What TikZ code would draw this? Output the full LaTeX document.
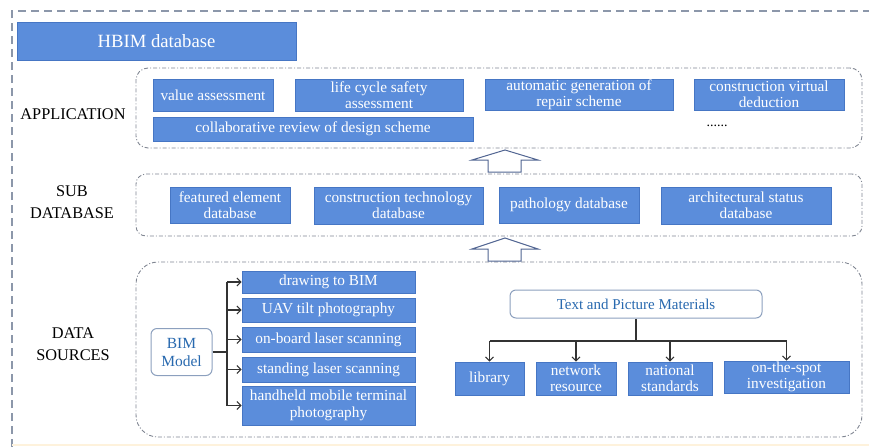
\documentclass[tikz,border=0pt]{standalone}
\usepackage{fontspec}
\setmainfont{Liberation Serif}
\usetikzlibrary{arrows.meta}

\definecolor{boxfill}{RGB}{91,141,219}
\definecolor{boxline}{RGB}{70,118,196}
\definecolor{framegray}{RGB}{140,151,170}
\definecolor{groupgray}{RGB}{128,134,146}
\definecolor{titleblue}{RGB}{40,105,175}
\definecolor{softline}{RGB}{140,160,190}
\definecolor{blockline}{RGB}{80,100,145}

\tikzset{
  box/.style={draw=boxline, line width=0.6pt, fill=boxfill, text=white, inner sep=0pt,
    align=center, font=\fontsize{15.3}{16.5}\selectfont},
  group/.style={draw=groupgray, line width=0.9pt, dash pattern=on 4pt off 2pt on 1pt off 2pt},
  sidelabel/.style={align=center, font=\fontsize{16.3}{22}\selectfont, text=black},
  softbox/.style={draw=softline, line width=1pt, fill=white, rounded corners=6pt, text=titleblue,
    inner sep=0pt, align=center, font=\fontsize{15}{17}\selectfont},
  feed/.style={draw=black!80, line width=1.2pt, -{Straight Barb[length=4pt,width=8pt,line width=1.1pt]}},
  trunk/.style={draw=black!80, line width=1.5pt},
  blockarrow/.style={draw=blockline, line width=1pt, fill=white, line join=miter}
}

\begin{document}
\begin{tikzpicture}[x=1pt, y=-1pt]
\useasboundingbox (0,0) rectangle (869,447);

% outer frame (open to the right and bottom)
\draw[framegray, line width=1.6pt, dash pattern=on 8pt off 5pt] (12,447) -- (12,11) -- (869,11);
\draw[yellow!25!orange!12, line width=2pt] (12,445) -- (869,445);

% title
\node[box, minimum width=279pt, minimum height=38pt, font=\fontsize{18.7}{20}\selectfont]
  (hbim) at (156.5,41) {HBIM database};

% ---------------- application layer ----------------
\node[group, rounded corners=12pt, minimum width=726pt, minimum height=80pt] (appgrp) at (499,108) {};
\node[sidelabel] (applab) at (73,114) {APPLICATION};
\node[box, minimum width=120pt, minimum height=32pt] (va) at (213,95) {value assessment};
\node[box, minimum width=168pt, minimum height=32pt] (lc) at (379,95) {life cycle safety\\assessment};
\node[box, minimum width=188pt, minimum height=31pt] (ag) at (579,94.5) {automatic generation of\\repair scheme};
\node[box, minimum width=150pt, minimum height=31pt] (cv) at (769,94.5) {construction virtual\\deduction};
\node[box, minimum width=320pt, minimum height=24pt] (cr) at (313,129) {collaborative review of design scheme};
\node[font=\fontsize{14}{14}\selectfont, inner sep=0pt] (more) at (717,126) {......};

% ---------------- sub database layer ----------------
\node[group, rounded corners=10pt, minimum width=726pt, minimum height=62pt] (subgrp) at (499,205) {};
\node[sidelabel] (sublab) at (72,202) {SUB\\DATABASE};
\node[box, minimum width=120pt, minimum height=36pt] (fe) at (230,205) {featured element\\database};
\node[box, minimum width=169pt, minimum height=37pt] (ct) at (398.5,205.5) {construction technology\\database};
\node[box, minimum width=140pt, minimum height=36pt] (pd) at (569,205) {pathology database};
\node[box, minimum width=170pt, minimum height=37pt] (as) at (746,205.5) {architectural status\\database};

% ---------------- data sources layer ----------------
\node[group, rounded corners=22pt, minimum width=726pt, minimum height=175pt] (dsgrp) at (499,349.5) {};
\node[sidelabel] (dslab) at (73,344) {DATA\\SOURCES};

\node[softbox, minimum width=61pt, minimum height=47pt, font=\fontsize{15.5}{18}\selectfont] (bim) at (181.5,352) {BIM\\Model};
\node[box, minimum width=173pt, minimum height=22pt] (d2b) at (328.5,282) {drawing to BIM};
\node[box, minimum width=173pt, minimum height=24pt] (uav) at (328.5,310) {UAV tilt photography};
\node[box, minimum width=173pt, minimum height=25pt] (obl) at (328.5,339.5) {on-board laser scanning};
\node[box, minimum width=173pt, minimum height=25pt] (sls) at (328.5,369.5) {standing laser scanning};
\node[box, minimum width=173pt, minimum height=39pt] (hmt) at (328.5,405.5) {handheld mobile terminal\\photography};

\coordinate (bimfork) at (227,352);
\draw[trunk] (bim.east) -- (bimfork);
\draw[trunk] (227,282) -- (227,405.5);
\foreach \t in {d2b,uav,obl,sls,hmt}
  \draw[feed] (bimfork |- \t.west) -- (\t.west);

\node[softbox, minimum width=252pt, minimum height=28pt] (tpm) at (636,304) {Text and Picture Materials};
\node[box, minimum width=69pt, minimum height=33pt] (lib) at (489.5,378.5) {library};
\node[box, minimum width=80pt, minimum height=33pt] (nr) at (576,378.5) {network\\resource};
\node[box, minimum width=84pt, minimum height=33pt] (ns) at (670,378.5) {national\\standards};
\node[box, minimum width=125pt, minimum height=32pt] (ots) at (786.5,377) {on-the-spot\\investigation};

\coordinate (tpmfork) at (636,341);
\draw[trunk] (tpm.south) -- (tpmfork);
\draw[trunk] (lib.north |- tpmfork) -- (ots.north |- tpmfork);
\foreach \t in {lib,nr,ns,ots}
  \draw[feed] (\t.north |- tpmfork) -- (\t.north);

% ---------------- hollow block arrows between layers ----------------
\draw[blockarrow] (488,172) -- (488,160) -- (472,160) -- (505,150) -- (538,160) -- (521,160) -- (521,172) -- cycle;
\draw[blockarrow] (488,261) -- (488,249) -- (472,249) -- (505,238) -- (538,249) -- (521,249) -- (521,261) -- cycle;
\end{tikzpicture}
\end{document}
